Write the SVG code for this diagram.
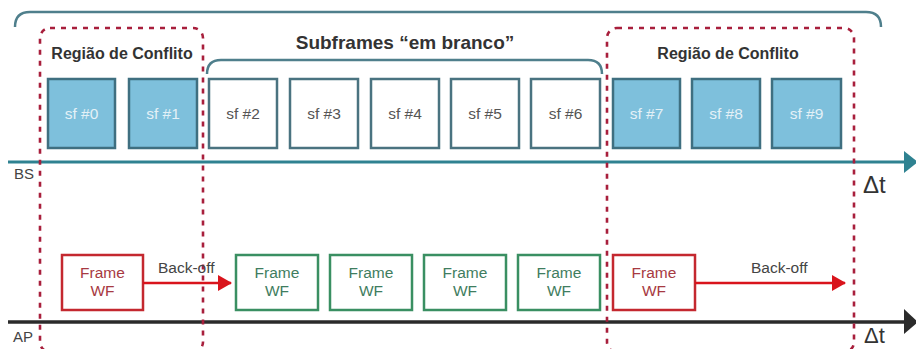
<svg xmlns="http://www.w3.org/2000/svg" width="916" height="349" viewBox="0 0 916 349">
<style>
text{font-family:"Liberation Sans",Arial,sans-serif}
.bracket{fill:none;stroke:#4f7f8c;stroke-width:2.5}
.region{fill:none;stroke:#a81f3c;stroke-width:2.6;stroke-dasharray:5 6}
.title{font-weight:bold;fill:#333;text-anchor:middle}
.sfb{fill:#7ec0dc;stroke:#3f6f80;stroke-width:2.5}
.sfw{fill:#fff;stroke:#4a7380;stroke-width:2.5}
.tb{font-size:15.5px;fill:#e4f1f7;text-anchor:middle}
.tw{font-size:15.5px;fill:#555;text-anchor:middle}
.fr{fill:#fff;stroke:#c4282f;stroke-width:2.5}
.fg{fill:#fff;stroke:#3a8f62;stroke-width:2.5}
.tr{font-size:15.5px;fill:#a73a42;text-anchor:middle}
.tg{font-size:15.5px;fill:#3f7d60;text-anchor:middle}
.lbl{font-size:15.5px;fill:#444}
.axl{font-size:15px;fill:#444}
.dt{font-size:24px;fill:#333}
</style>
<defs>
<marker id="redArrow" markerUnits="userSpaceOnUse" markerWidth="14" markerHeight="16" refX="13" refY="8" orient="auto"><path d="M0,0 L14,8 L0,16 Z" fill="#d9141c"/></marker>
</defs>

<g id="brackets">
<path class="bracket" d="M15,27 Q15,12 30,12 H866 Q881,12 881,27"/>
<path class="bracket" d="M207,74 Q207,60 221,60 H588 Q602,60 602,74"/>
<text class="title" x="405" y="49" font-size="19">Subframes “em branco”</text>
</g>

<g id="axes">
<line x1="8" y1="162" x2="906" y2="162" stroke="#2f8291" stroke-width="3"/>
<polygon points="904,151 918,162 904,173" fill="#2f8291"/>
<text class="axl" x="14" y="179">BS</text>
<text class="dt" x="863" y="193">Δt</text>
<line x1="8" y1="322" x2="906" y2="322" stroke="#2b2b2b" stroke-width="3.5"/>
<polygon points="904,309 918,322 904,334" fill="#2b2b2b"/>
<text class="axl" x="13" y="342">AP</text>
<text class="dt" x="864" y="343" style="font-size:22px">Δt</text>
</g>

<g id="region-left">
<rect class="region" x="40" y="28" width="163" height="324" rx="10"/>
<text class="title" x="122" y="59" font-size="16">Região de Conflito</text>
</g>
<g id="region-right">
<rect class="region" x="607" y="28" width="247" height="324" rx="10"/>
<text class="title" x="728" y="59" font-size="16">Região de Conflito</text>
</g>

<g id="sf0"><rect class="sfb" x="48" y="79" width="67" height="69"/><text class="tb" x="81.5" y="119">sf #0</text></g>
<g id="sf1"><rect class="sfb" x="129" y="79" width="68" height="69"/><text class="tb" x="163" y="119">sf #1</text></g>
<g id="sf2"><rect class="sfw" x="209" y="79" width="68" height="69"/><text class="tw" x="243" y="119">sf #2</text></g>
<g id="sf3"><rect class="sfw" x="290" y="79" width="68" height="69"/><text class="tw" x="324" y="119">sf #3</text></g>
<g id="sf4"><rect class="sfw" x="371" y="79" width="68" height="69"/><text class="tw" x="405" y="119">sf #4</text></g>
<g id="sf5"><rect class="sfw" x="451" y="79" width="68" height="69"/><text class="tw" x="485" y="119">sf #5</text></g>
<g id="sf6"><rect class="sfw" x="531" y="79" width="69" height="69"/><text class="tw" x="565.5" y="119">sf #6</text></g>
<g id="sf7"><rect class="sfb" x="613" y="79" width="67" height="69"/><text class="tb" x="646.5" y="119">sf #7</text></g>
<g id="sf8"><rect class="sfb" x="692" y="79" width="68" height="69"/><text class="tb" x="726" y="119">sf #8</text></g>
<g id="sf9"><rect class="sfb" x="772" y="79" width="69" height="69"/><text class="tb" x="806.5" y="119">sf #9</text></g>

<g id="wf-red-1"><rect class="fr" x="62" y="255" width="81" height="55"/><text class="tr" x="102.5" y="278">Frame</text><text class="tr" x="102.5" y="296">WF</text></g>
<g id="wf-green-1"><rect class="fg" x="236" y="255" width="82" height="55"/><text class="tg" x="277" y="278">Frame</text><text class="tg" x="277" y="296">WF</text></g>
<g id="wf-green-2"><rect class="fg" x="330" y="255" width="82" height="55"/><text class="tg" x="371" y="278">Frame</text><text class="tg" x="371" y="296">WF</text></g>
<g id="wf-green-3"><rect class="fg" x="424" y="255" width="82" height="55"/><text class="tg" x="465" y="278">Frame</text><text class="tg" x="465" y="296">WF</text></g>
<g id="wf-green-4"><rect class="fg" x="518" y="255" width="82" height="55"/><text class="tg" x="559" y="278">Frame</text><text class="tg" x="559" y="296">WF</text></g>
<g id="wf-red-2"><rect class="fr" x="613" y="255" width="82" height="55"/><text class="tr" x="654" y="278">Frame</text><text class="tr" x="654" y="296">WF</text></g>

<g id="connectors">
<line x1="143" y1="283" x2="231" y2="283" stroke="#d9141c" stroke-width="2.5" marker-end="url(#redArrow)"/>
<text class="lbl" x="158" y="273">Back-off</text>
<line x1="695" y1="283" x2="845" y2="283" stroke="#d9141c" stroke-width="2.5" marker-end="url(#redArrow)"/>
<text class="lbl" x="751" y="273">Back-off</text>
</g>
</svg>
